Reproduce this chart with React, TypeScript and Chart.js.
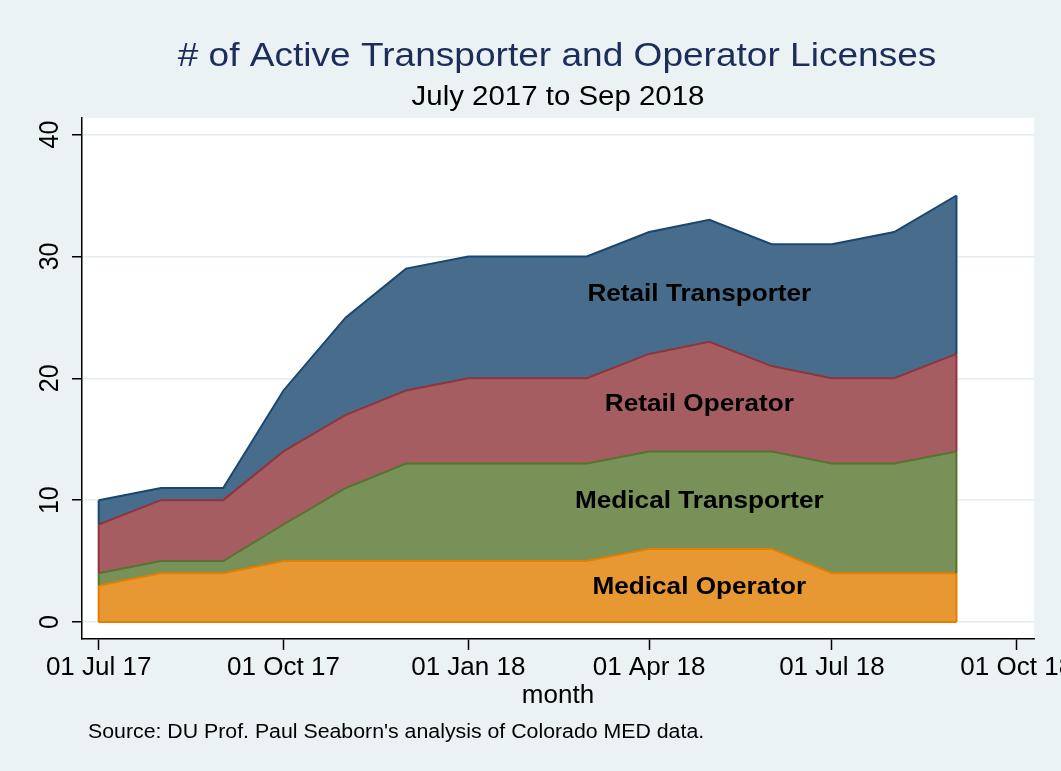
import React, { useEffect, useRef } from 'react';
import { Chart, registerables } from 'chart.js';

Chart.register(...registerables);

// ---- Data ----
const months = [
  '2017-07-01', '2017-08-01', '2017-09-01', '2017-10-01', '2017-11-01',
  '2017-12-01', '2018-01-01', '2018-02-01', '2018-03-01', '2018-04-01',
  '2018-05-01', '2018-06-01', '2018-07-01', '2018-08-01', '2018-09-01',
];
const seriesNames = ['Medical Operator', 'Medical Transporter', 'Retail Operator', 'Retail Transporter'];
const medicalOperator = [3, 4, 4, 5, 5, 5, 5, 5, 5, 6, 6, 6, 4, 4, 4];
const medicalTransporter = [1, 1, 1, 3, 6, 8, 8, 8, 8, 8, 8, 8, 9, 9, 10];
const retailOperator = [4, 5, 5, 6, 6, 6, 7, 7, 7, 8, 9, 7, 7, 7, 8];
const retailTransporter = [2, 1, 1, 5, 8, 10, 10, 10, 10, 10, 10, 10, 11, 12, 13];

const xTickDates = ['2017-07-01', '2017-10-01', '2018-01-01', '2018-04-01', '2018-07-01', '2018-10-01'];
const xTickLabels = ['01 Jul 17', '01 Oct 17', '01 Jan 18', '01 Apr 18', '01 Jul 18', '01 Oct 18'];
const yTicks = [0, 10, 20, 30, 40];

// in-area label anchors (data units)
const areaLabelDate = '2018-04-26';
const areaLabelY = [2.85, 9.9, 17.9, 26.9];

const titleText = '# of Active Transporter and Operator Licenses';
const subtitleText = 'July 2017 to Sep 2018';
const xAxisTitle = 'month';
const noteText = "Source: DU Prof. Paul Seaborn's analysis of Colorado MED data.";

// ---- Styles ----
const fillColors = ['#E89833', '#779159', '#A65D62', '#486C8C'];
const lineColors = ['#E37E00', '#55752F', '#90353B', '#1A476F'];
const BG = '#EAF2F3';
const FONT = '"Liberation Sans", Arial, Helvetica, sans-serif';
const STRETCH = 1.09;

const dayNum = (s: string) => Date.parse(s + 'T00:00:00Z') / 86400000;

function drawStretched(ctx: CanvasRenderingContext2D, text: string, x: number, y: number, font: string, color: string, align: CanvasTextAlign, baseline: CanvasTextBaseline, sx: number, rot = 0) {
  ctx.save();
  ctx.translate(x, y);
  ctx.scale(sx, 1);
  if (rot) ctx.rotate(rot);
  ctx.font = font;
  ctx.fillStyle = color;
  ctx.textAlign = align;
  ctx.textBaseline = baseline;
  ctx.fillText(text, 0, 0);
  ctx.restore();
}

const decorPlugin = {
  id: 'decor',
  beforeDraw(chart: any) {
    const { ctx, chartArea } = chart;
    ctx.save();
    ctx.fillStyle = BG;
    ctx.fillRect(0, 0, chart.width, chart.height);
    ctx.fillStyle = '#FFFFFF';
    ctx.fillRect(chartArea.left, chartArea.top, chartArea.right - chartArea.left, chartArea.bottom - chartArea.top);
    ctx.restore();
  },
  afterDatasetsDraw(chart: any) {
    const { ctx, scales } = chart;
    const ys = scales.y;
    const xs = scales.x;
    ctx.save();
    ctx.lineWidth = 2;
    ctx.lineCap = 'butt';
    for (let i = 0; i < chart.data.datasets.length; i++) {
      const pts = chart.getDatasetMeta(i).data;
      const prev = i > 0 ? chart.getDatasetMeta(i - 1).data : null;
      const zero = ys.getPixelForValue(0);
      ctx.strokeStyle = lineColors[i];
      const ends = [0, pts.length - 1];
      ctx.beginPath();
      for (const k of ends) {
        const lower = prev ? prev[k].y : zero;
        ctx.moveTo(pts[k].x, lower);
        ctx.lineTo(pts[k].x, pts[k].y);
      }
      if (i === 0) {
        ctx.moveTo(pts[0].x, zero);
        ctx.lineTo(pts[pts.length - 1].x, zero);
      }
      ctx.stroke();
    }
    ctx.restore();
    // in-area labels
    const lx = xs.getPixelForValue(dayNum(areaLabelDate));
    seriesNames.forEach((name, i) => {
      drawStretched(ctx, name, lx, ys.getPixelForValue(areaLabelY[i]), `bold 24px ${FONT}`, '#000', 'center', 'middle', STRETCH);
    });
  },
  afterDraw(chart: any) {
    const { ctx, chartArea, scales } = chart;
    const cx = (chartArea.left + chartArea.right) / 2;
    drawStretched(ctx, titleText, cx - 1, 66, `34px ${FONT}`, '#1C2D5B', 'center', 'alphabetic', STRETCH);
    drawStretched(ctx, subtitleText, cx, 105, `27px ${FONT}`, '#000', 'center', 'alphabetic', STRETCH);
    drawStretched(ctx, noteText, chartArea.left + 6, 738, `20px ${FONT}`, '#000', 'left', 'alphabetic', 1.065);
    // y tick labels, rotated
    const ys = scales.y;
    yTicks.forEach((v) => {
      drawStretched(ctx, String(v), 50.5, ys.getPixelForValue(v), `25px ${FONT}`, '#000', 'center', 'middle', 1.1, -Math.PI / 2);
    });
  },
};

export default function App() {
  const ref = useRef<HTMLCanvasElement | null>(null);
  useEffect(() => {
    document.body.style.margin = '0';
    const canvas = ref.current;
    if (!canvas) return;
    const xs = months.map(dayNum);
    const series = [medicalOperator, medicalTransporter, retailOperator, retailTransporter];
    const chart = new Chart(canvas, {
      type: 'line',
      data: {
        datasets: series.map((vals, i) => ({
          label: seriesNames[i],
          data: vals.map((v, j) => ({ x: xs[j], y: v })),
          backgroundColor: fillColors[i],
          borderColor: lineColors[i],
          borderWidth: 2,
          pointRadius: 0,
          tension: 0,
          fill: i === 0 ? 'origin' : '-1',
        })),
      },
      options: {
        animation: false,
        responsive: false,
        devicePixelRatio: 1,
        layout: { padding: { top: 118, right: 27, bottom: 52, left: 0 } },
        plugins: {
          legend: { display: false },
          tooltip: { enabled: false },
          title: { display: false },
        },
        scales: {
          x: {
            type: 'linear',
            min: dayNum('2017-07-01') - 8.3,
            max: dayNum('2018-10-01') + 8.6,
            afterBuildTicks: (s: any) => {
              s.ticks = xTickDates.map((d) => ({ value: dayNum(d) }));
            },
            afterFit: (s: any) => {
              s.height = 80;
              s.paddingLeft = 0;
              s.paddingRight = 0;
            },
            ticks: {
              autoSkip: false,
              maxRotation: 0,
              minRotation: 0,
              padding: 2,
              color: '#000',
              font: { family: FONT, size: 26 },
              callback: (_v: any, idx: number) => xTickLabels[idx],
            },
            grid: {
              drawOnChartArea: false,
              tickLength: 11,
              tickColor: '#000',
              tickWidth: 1.5,
              color: '#000',
            },
            border: { display: true, color: '#000', width: 1.5 },
            title: {
              display: true,
              text: xAxisTitle,
              color: '#000',
              font: { family: FONT, size: 26 },
              padding: { top: 0, bottom: 8 },
            },
          },
          y: {
            type: 'linear',
            stacked: true,
            min: -1.395,
            max: 41.36,
            afterBuildTicks: (s: any) => {
              s.ticks = yTicks.map((v) => ({ value: v }));
            },
            afterFit: (s: any) => {
              s.width = 82;
              s.paddingTop = 0;
              s.paddingBottom = 0;
            },
            ticks: { display: false },
            grid: {
              drawOnChartArea: true,
              color: '#E3ECEE',
              lineWidth: 1.5,
              tickLength: 10,
              tickColor: '#000',
              tickWidth: 1.5,
            },
            border: { display: true, color: '#000', width: 1.5 },
          },
        },
      },
      plugins: [decorPlugin],
    } as any);
    return () => chart.destroy();
  }, []);
  return (
    <div style={{ width: 1061, height: 771, background: BG }}>
      <canvas ref={ref} width={1061} height={771} style={{ display: 'block' }} />
    </div>
  );
}
